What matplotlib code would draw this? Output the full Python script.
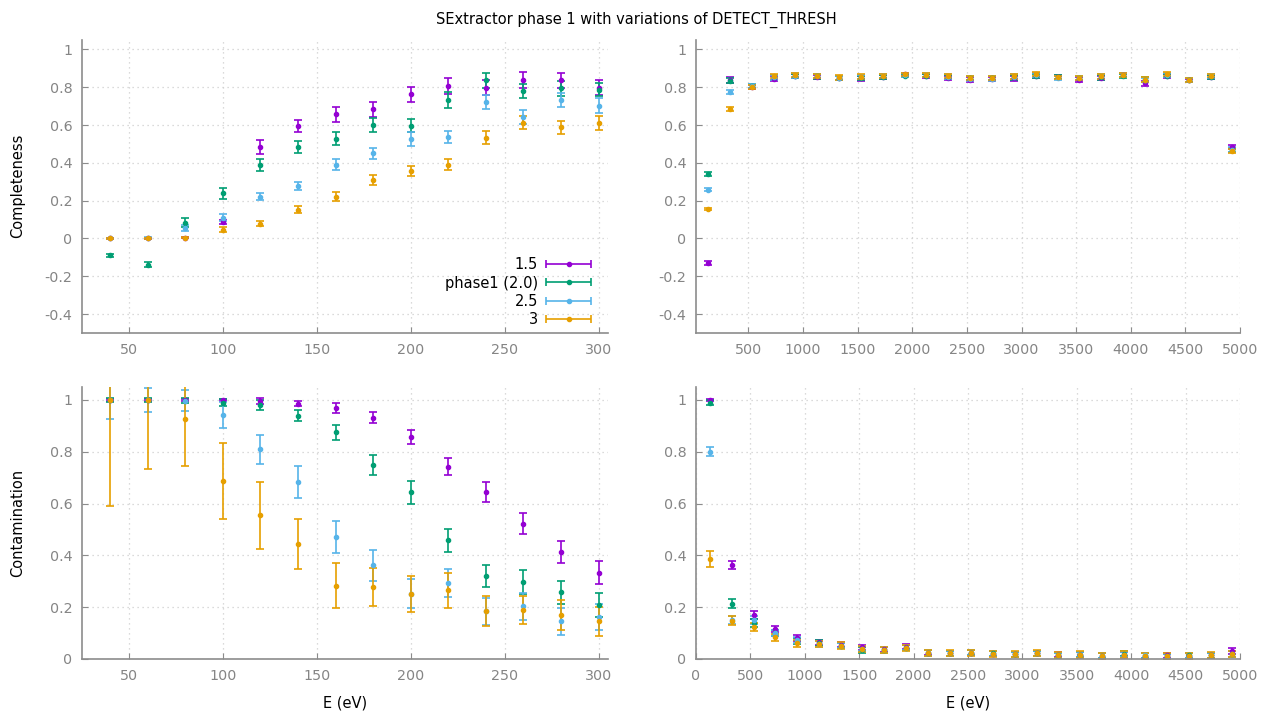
import numpy as np
import matplotlib
matplotlib.use("Agg")
import matplotlib.pyplot as plt
from matplotlib.container import ErrorbarContainer
from matplotlib.legend_handler import HandlerErrorbar

plt.rcParams['font.family'] = ['DejaVu Sans']
plt.rcParams['axes.unicode_minus'] = False

# ---------------- data ----------------
E_low = [40, 60, 80, 100, 120, 140, 160, 180, 200, 220, 240, 260, 280, 300]
E_high = [130, 330, 530, 730, 930, 1130, 1330, 1530, 1730, 1930, 2130, 2330, 2530,
          2730, 2930, 3130, 3330, 3530, 3730, 3930, 4130, 4330, 4530, 4730, 4930]

series_labels = ['1.5', 'phase1 (2.0)', '2.5', '3']
series_colors = ['#9400D3', '#009E73', '#56B4E9', '#E69F00']

# Completeness, low energy
comp_lo_15 = [0.0, 0.0, 0.005, 0.086, 0.484, 0.596, 0.656, 0.684, 0.763, 0.807, 0.798, 0.838, 0.836, 0.798]
comp_lo_15_err = [0.003, 0.003, 0.005, 0.010, 0.039, 0.033, 0.038, 0.040, 0.041, 0.041, 0.040, 0.041, 0.042, 0.041]
comp_lo_20 = [-0.089, -0.140, 0.084, 0.240, 0.388, 0.484, 0.528, 0.602, 0.596, 0.733, 0.837, 0.781, 0.795, 0.788]
comp_lo_20_err = [0.007, 0.013, 0.022, 0.029, 0.030, 0.034, 0.034, 0.038, 0.034, 0.041, 0.040, 0.037, 0.040, 0.036]
comp_lo_25 = [0.0, 0.005, 0.056, 0.110, 0.221, 0.279, 0.391, 0.451, 0.528, 0.537, 0.722, 0.643, 0.734, 0.703]
comp_lo_25_err = [0.002, 0.005, 0.015, 0.020, 0.020, 0.020, 0.030, 0.030, 0.037, 0.034, 0.037, 0.037, 0.037, 0.038]
comp_lo_30 = [0.0, 0.002, 0.005, 0.047, 0.079, 0.153, 0.221, 0.309, 0.356, 0.391, 0.534, 0.612, 0.588, 0.612]
comp_lo_30_err = [0.003, 0.003, 0.004, 0.012, 0.012, 0.020, 0.025, 0.027, 0.027, 0.030, 0.033, 0.035, 0.036, 0.036]

# Completeness, full range
comp_hi_15 = [-0.130, 0.840, 0.803, 0.845, 0.860, 0.855, 0.848, 0.847, 0.855, 0.868, 0.860, 0.850, 0.840,
              0.843, 0.847, 0.862, 0.853, 0.840, 0.850, 0.865, 0.820, 0.860, 0.836, 0.855, 0.483]
comp_hi_15_err = [0.012, 0.015, 0.010, 0.012, 0.010, 0.012, 0.012, 0.012, 0.010, 0.010, 0.010, 0.012, 0.012,
                  0.012, 0.012, 0.012, 0.010, 0.012, 0.012, 0.010, 0.012, 0.010, 0.010, 0.010, 0.012]
comp_hi_20 = [0.342, 0.835, 0.805, 0.852, 0.860, 0.858, 0.850, 0.850, 0.855, 0.862, 0.862, 0.855, 0.848,
              0.848, 0.852, 0.860, 0.853, 0.848, 0.852, 0.860, 0.840, 0.862, 0.840, 0.853, 0.468]
comp_hi_20_err = [0.010, 0.014, 0.010, 0.012, 0.012, 0.012, 0.012, 0.012, 0.010, 0.010, 0.010, 0.012, 0.012,
                  0.012, 0.012, 0.012, 0.010, 0.012, 0.012, 0.010, 0.012, 0.010, 0.010, 0.010, 0.012]
comp_hi_25 = [0.258, 0.775, 0.808, 0.853, 0.862, 0.860, 0.850, 0.855, 0.860, 0.866, 0.864, 0.856, 0.846,
              0.846, 0.856, 0.866, 0.849, 0.848, 0.858, 0.864, 0.838, 0.864, 0.838, 0.858, 0.470]
comp_hi_25_err = [0.008, 0.012, 0.010, 0.012, 0.012, 0.012, 0.012, 0.012, 0.010, 0.010, 0.010, 0.012, 0.012,
                  0.012, 0.012, 0.012, 0.010, 0.012, 0.012, 0.010, 0.012, 0.010, 0.010, 0.010, 0.012]
comp_hi_30 = [0.156, 0.686, 0.800, 0.860, 0.866, 0.860, 0.852, 0.856, 0.860, 0.868, 0.866, 0.860, 0.850,
              0.850, 0.858, 0.870, 0.852, 0.850, 0.858, 0.866, 0.840, 0.870, 0.840, 0.862, 0.463]
comp_hi_30_err = [0.006, 0.010, 0.010, 0.012, 0.012, 0.012, 0.012, 0.012, 0.010, 0.010, 0.010, 0.012, 0.012,
                  0.012, 0.012, 0.012, 0.010, 0.012, 0.012, 0.010, 0.012, 0.010, 0.010, 0.010, 0.012]

# Contamination, low energy
cont_lo_15 = [1.0, 1.0, 1.0, 1.0, 0.996, 0.985, 0.968, 0.932, 0.857, 0.742, 0.645, 0.523, 0.412, 0.333]
cont_lo_15_err = [0.004, 0.004, 0.004, 0.005, 0.010, 0.010, 0.019, 0.020, 0.028, 0.032, 0.039, 0.039, 0.043, 0.044]
cont_lo_20 = [1.0, 1.0, 0.997, 0.990, 0.979, 0.939, 0.875, 0.748, 0.644, 0.458, 0.321, 0.297, 0.257, 0.209]
cont_lo_20_err = [0.006, 0.006, 0.010, 0.012, 0.019, 0.022, 0.030, 0.039, 0.044, 0.045, 0.043, 0.046, 0.046, 0.046]
cont_lo_25 = [1.0, 1.0, 0.997, 0.943, 0.809, 0.684, 0.472, 0.361, 0.252, 0.293, 0.185, 0.203, 0.146, 0.161]
cont_lo_25_err = [0.072, 0.045, 0.040, 0.050, 0.056, 0.061, 0.061, 0.059, 0.057, 0.055, 0.052, 0.053, 0.052, 0.050]
cont_lo_30 = [1.0, 1.0, 0.928, 0.688, 0.555, 0.444, 0.283, 0.279, 0.250, 0.265, 0.185, 0.190, 0.170, 0.146]
cont_lo_30_err = [0.410, 0.266, 0.183, 0.146, 0.129, 0.097, 0.086, 0.074, 0.069, 0.067, 0.059, 0.055, 0.057, 0.056]

# Contamination, full range
cont_hi_15 = [1.0, 0.364, 0.170, 0.116, 0.080, 0.065, 0.055, 0.045, 0.038, 0.048, 0.024, 0.022, 0.024,
              0.020, 0.018, 0.022, 0.016, 0.017, 0.013, 0.017, 0.013, 0.015, 0.013, 0.014, 0.030]
cont_hi_15_err = [0.005, 0.015, 0.015, 0.012, 0.012, 0.010, 0.010, 0.010, 0.010, 0.010, 0.010, 0.010, 0.010,
                  0.010, 0.010, 0.010, 0.010, 0.010, 0.010, 0.010, 0.010, 0.010, 0.010, 0.010, 0.012]
cont_hi_20 = [0.990, 0.213, 0.140, 0.100, 0.070, 0.062, 0.052, 0.035, 0.035, 0.043, 0.023, 0.022, 0.025,
              0.022, 0.018, 0.022, 0.014, 0.017, 0.013, 0.020, 0.013, 0.010, 0.015, 0.014, 0.020]
cont_hi_20_err = [0.008, 0.017, 0.015, 0.012, 0.012, 0.010, 0.010, 0.010, 0.010, 0.010, 0.010, 0.010, 0.010,
                  0.010, 0.010, 0.010, 0.010, 0.010, 0.010, 0.010, 0.010, 0.010, 0.010, 0.010, 0.012]
cont_hi_25 = [0.800, 0.150, 0.150, 0.100, 0.072, 0.058, 0.052, 0.040, 0.035, 0.043, 0.023, 0.022, 0.025,
              0.020, 0.018, 0.022, 0.014, 0.017, 0.013, 0.017, 0.015, 0.010, 0.013, 0.014, 0.020]
cont_hi_25_err = [0.018, 0.015, 0.015, 0.012, 0.012, 0.010, 0.010, 0.010, 0.010, 0.010, 0.010, 0.010, 0.010,
                  0.010, 0.010, 0.010, 0.010, 0.010, 0.010, 0.010, 0.010, 0.010, 0.010, 0.010, 0.012]
cont_hi_30 = [0.386, 0.148, 0.123, 0.084, 0.060, 0.058, 0.052, 0.040, 0.035, 0.043, 0.023, 0.022, 0.023,
              0.020, 0.018, 0.022, 0.014, 0.017, 0.013, 0.017, 0.013, 0.010, 0.013, 0.014, 0.020]
cont_hi_30_err = [0.032, 0.017, 0.015, 0.013, 0.013, 0.012, 0.012, 0.012, 0.012, 0.012, 0.012, 0.012, 0.012,
                  0.012, 0.012, 0.012, 0.012, 0.012, 0.012, 0.012, 0.012, 0.012, 0.012, 0.012, 0.012]

comp_lo = [(comp_lo_15, comp_lo_15_err), (comp_lo_20, comp_lo_20_err), (comp_lo_25, comp_lo_25_err), (comp_lo_30, comp_lo_30_err)]
comp_hi = [(comp_hi_15, comp_hi_15_err), (comp_hi_20, comp_hi_20_err), (comp_hi_25, comp_hi_25_err), (comp_hi_30, comp_hi_30_err)]
cont_lo = [(cont_lo_15, cont_lo_15_err), (cont_lo_20, cont_lo_20_err), (cont_lo_25, cont_lo_25_err), (cont_lo_30, cont_lo_30_err)]
cont_hi = [(cont_hi_15, cont_hi_15_err), (cont_hi_20, cont_hi_20_err), (cont_hi_25, cont_hi_25_err), (cont_hi_30, cont_hi_30_err)]

# ---------------- figure ----------------
W, H = 1264, 714
fig = plt.figure(figsize=(W / 100, H / 100), dpi=100)


def px_axes(left, top, right, bottom):
    return fig.add_axes([left / W, 1 - bottom / H, (right - left) / W, (bottom - top) / H])


ax_tl = px_axes(82, 40, 608, 333)
ax_tr = px_axes(696, 40, 1240, 333)
ax_bl = px_axes(82, 387, 608, 659)
ax_br = px_axes(696, 387, 1240, 659)

GREY = '#858585'


def style(ax, xlim, ylim, xticks, yticks):
    ax.set_xlim(*xlim)
    ax.set_ylim(*ylim)
    ax.set_xticks(xticks)
    ax.set_yticks(yticks)
    ax.set_xticklabels(['%g' % t for t in xticks])
    ax.set_yticklabels(['%g' % round(t, 2) for t in yticks])
    for s in ['top', 'right']:
        ax.spines[s].set_visible(False)
    for s in ['left', 'bottom']:
        ax.spines[s].set_color('#8c8c8c')
        ax.spines[s].set_linewidth(1.2)
    ax.tick_params(direction='in', length=4, width=0.8, color='#8c8c8c',
                   labelcolor=GREY, labelsize=10.3, pad=7)
    ax.grid(True, color='#cfcfcf', linestyle=(0, (1, 3)), linewidth=0.9)
    ax.set_axisbelow(True)


def draw(ax, xs, sets):
    for (vals, errs), c in zip(sets, series_colors):
        ax.errorbar(xs, vals, yerr=errs, fmt='o', color=c, ecolor=c, markersize=3,
                    elinewidth=1.2, capsize=3.2, capthick=1.2, clip_on=True)


yt_top = [-0.4, -0.2, 0, 0.2, 0.4, 0.6, 0.8, 1]
yt_bot = [0, 0.2, 0.4, 0.6, 0.8, 1]
xt_low = [50, 100, 150, 200, 250, 300]

style(ax_tl, (25, 305), (-0.5, 1.05), xt_low, yt_top)
style(ax_tr, (20, 5000), (-0.5, 1.05), [500, 1000, 1500, 2000, 2500, 3000, 3500, 4000, 4500, 5000], yt_top)
style(ax_bl, (25, 305), (0, 1.05), xt_low, yt_bot)
style(ax_br, (0, 5000), (0, 1.05), [0, 500, 1000, 1500, 2000, 2500, 3000, 3500, 4000, 4500, 5000], yt_bot)

draw(ax_tl, E_low, comp_lo)
draw(ax_tr, E_high, comp_hi)
draw(ax_bl, E_low, cont_lo)
draw(ax_br, E_high, cont_hi)

# legend proxies with horizontal bars
proxies = []
for lab, c in zip(series_labels, series_colors):
    h = ax_tl.errorbar([np.nan], [np.nan], xerr=[1.0], fmt='o', color=c, ecolor=c,
                       markersize=3, elinewidth=1.2, capsize=3.2, capthick=1.2, label=lab)
    proxies.append(h)
leg = ax_tl.legend(handles=proxies, labels=series_labels, loc='lower right',
                   bbox_to_anchor=(592 / W, 1 - 327 / H), bbox_transform=fig.transFigure,
                   frameon=False, markerfirst=False, fontsize=10.5, handlelength=3.2,
                   handletextpad=0.5, labelspacing=0.22, borderpad=0, borderaxespad=0,
                   handler_map={ErrorbarContainer: HandlerErrorbar(xerr_size=1.55)})

fig.text(636 / W, 1 - 20 / H, 'SExtractor phase 1 with variations of DETECT_THRESH',
         ha='center', va='center', fontsize=10.5)
fig.text(18 / W, 1 - 186 / H, 'Completeness', rotation=90, ha='center', va='center', fontsize=10.5)
fig.text(18 / W, 1 - 523 / H, 'Contamination', rotation=90, ha='center', va='center', fontsize=10.5)
fig.text(345 / W, 1 - 703 / H, 'E (eV)', ha='center', va='center', fontsize=10.5)
fig.text(968 / W, 1 - 703 / H, 'E (eV)', ha='center', va='center', fontsize=10.5)

fig.savefig('out.png', dpi=100)
